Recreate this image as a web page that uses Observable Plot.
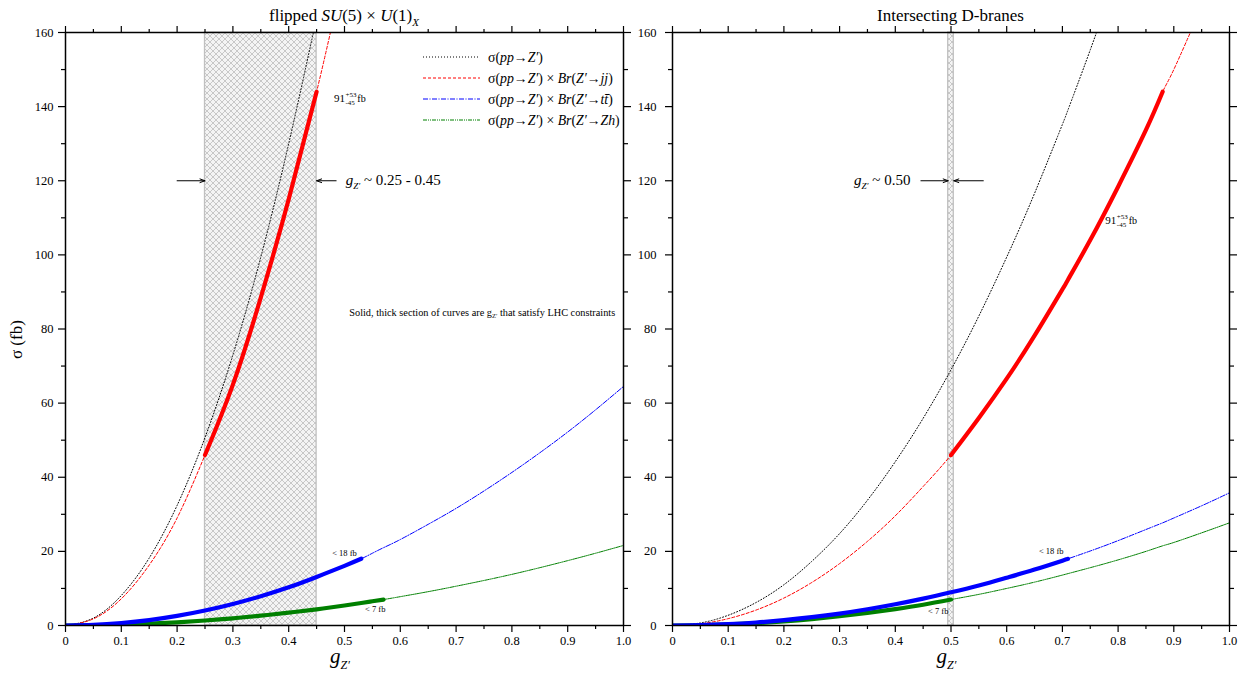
<!DOCTYPE html>
<html><head><meta charset="utf-8">
<script src="https://cdn.jsdelivr.net/npm/d3@7"></script>
<script src="https://cdn.jsdelivr.net/npm/@observablehq/plot@0.6"></script>
<style>
body{margin:0;background:#fff;}
#wrap{display:flex;width:1248px;height:678px;}
#wrap svg{flex:none;overflow:visible;font-family:"Liberation Serif","DejaVu Serif",serif;}
</style>
</head><body><div id="wrap"></div>
<script>
// ---------- tick values ----------
const xTicks = [0,0.1,0.2,0.3,0.4,0.5,0.6,0.7,0.8,0.9,1.0];
const xMinor = [0.05,0.15,0.25,0.35,0.45,0.55,0.65,0.75,0.85,0.95];
const yTicks = [0,20,40,60,80,100,120,140,160];
const yMinor = [10,30,50,70,90,110,130,150];

// ---------- flipped SU(5) x U(1)_X ----------
const gLeft     = [0,0.05,0.1,0.15,0.2,0.25,0.3,0.35,0.4,0.45,0.5,0.53,0.55,0.57,0.6,0.65,0.7,0.75,0.8,0.85,0.9,0.95,1.0];
const sigmaLeft = [0,2.0,8.1,18.2,32.4,50.7,73.0,99.4,130,164,null,null,null,null,null,null,null,null,null,null,null,null,null];
const jjLeft    = [0,1.8,7.2,16.3,29,46,65,88.5,115,144,177,null,null,null,null,null,null,null,null,null,null,null,null];
const ttLeft    = [0,0.16,0.65,1.45,2.58,4.03,5.8,7.9,10.3,13.1,16.1,18.0,19.5,21.0,23.2,27.3,31.6,36.3,41.3,46.6,52.2,58.2,64.5];
const zhLeft    = [0,0.05,0.22,0.49,0.86,1.35,1.94,2.65,3.46,4.37,5.4,6.07,6.53,7.0,7.78,9.13,10.6,12.15,13.8,15.6,17.5,19.5,21.6];
const jjThickLeft = [0.25,0.45];
const ttThickLeft = [0,0.53];
const zhThickLeft = [0,0.57];
const bandLeft = [0.25,0.45];

// ---------- Intersecting D-branes ----------
const gRight     = [0,0.05,0.1,0.15,0.2,0.25,0.3,0.35,0.4,0.45,0.5,0.55,0.6,0.65,0.7,0.71,0.75,0.8,0.85,0.88,0.9,0.95,1.0];
const sigmaRight = [0,0.69,2.76,6.2,11.0,17.3,24.8,33.8,44.2,55.9,69,83.5,99.4,116.6,135.2,139.1,155.3,176.6,null,null,null,null,null];
const jjRight    = [0,0.46,1.85,4.16,7.4,11.6,16.7,22.7,29.6,37.5,46,56,66.6,78.2,90.7,93.3,104,118.4,133.7,144,150,167,null];
const ttRight    = [0,0.09,0.36,0.81,1.43,2.24,3.22,4.39,5.73,7.25,8.95,10.8,12.9,15.1,17.5,18.0,20.1,22.9,25.9,27.7,29.0,32.3,35.8];
const zhRight    = [0,0.07,0.28,0.62,1.1,1.73,2.5,3.4,4.43,5.6,7.0,8.4,10.0,11.7,13.6,14.0,15.6,17.7,20.0,21.5,22.4,25.0,27.7];
const jjThickRight = [0.5,0.88];
const ttThickRight = [0,0.71];
const zhThickRight = [0,0.5];
const bandRight = [0.495,0.505];

// ---------- annotations ----------
const limitLabelsLeft  = [{g:0.50,v:19.6,text:"< 18 fb"},{g:0.555,v:4.4,text:"< 7 fb"}];
const limitLabelsRight = [{g:0.68,v:20.0,text:"< 18 fb"},{g:0.477,v:3.8,text:"< 7 fb"}];
const arrowsLeft  = [{from:0.20,to:0.25,v:120},{from:0.485,to:0.45,v:120}];
const arrowsRight = [{from:0.446,to:0.495,v:120},{from:0.558,to:0.505,v:120}];
const xsecLabelLeft  = {g:0.482,v:142.3};
const xsecLabelRight = {g:0.778,v:109.3};
const rangeNoteLeft  = {g:0.503,v:120,anchor:"start",text:"~ 0.25 - 0.45"};
const rangeNoteRight = {g:0.428,v:120,anchor:"end",text:"~ 0.50"};
const noteText = {g:0.986,v:84.2};

const colors = {sigma:"#000000", jj:"#ff0000", tt:"#0000ff", zh:"#008000"};
const dashes = {sigma:"1,2", jj:"3,2", tt:"5,1.5,1,1.5", zh:"4,1,1,1,1,1"};

const SERIF = "Liberation Serif, DejaVu Serif, serif";
const primeZ = "Z\u2032";
const legendEntries = [
  {key:"sigma", parts:[{t:"σ("},{t:"pp",i:1},{t:"→"},{t:primeZ,i:1},{t:")"}]},
  {key:"jj", parts:[{t:"σ("},{t:"pp",i:1},{t:"→"},{t:primeZ,i:1},{t:") × "},{t:"Br",i:1},{t:"("},{t:primeZ+"→jj",i:1},{t:")"}]},
  {key:"tt", parts:[{t:"σ("},{t:"pp",i:1},{t:"→"},{t:primeZ,i:1},{t:") × "},{t:"Br",i:1},{t:"("},{t:primeZ+"→tt\u0304",i:1},{t:")"}]},
  {key:"zh", parts:[{t:"σ("},{t:"pp",i:1},{t:"→"},{t:primeZ,i:1},{t:") × "},{t:"Br",i:1},{t:"("},{t:primeZ+"→Zh",i:1},{t:")"}]}
];

function rich(sel, x, y, parts, anchor, size) {
  const t = sel.append("text").attr("x", x).attr("y", y).attr("text-anchor", anchor || "start")
    .attr("font-family", SERIF).attr("font-size", size || 12).attr("fill", "black");
  let cur = 0, prev = null;
  for (const p of parts) {
    const ts = t.append("tspan").text(p.t);
    if (p.s) ts.attr("font-size", p.s);
    const shift = p.up || 0;
    if (shift !== cur) { ts.attr("dy", shift - cur); cur = shift; }
    if (p.i) ts.attr("font-style", "italic");
    let dx = p.dx || 0;
    if (p.back && prev) dx -= prev.node().getComputedTextLength();
    if (dx) ts.attr("dx", dx);
    prev = ts;
  }
  return t;
}

function panel(cfg) {
  const mk = (vals) => cfg.g.map((x, i) => ({g: x, v: vals[i]}));
  const inR = (r) => (d) => d.g >= r[0] - 1e-9 && d.g <= r[1] + 1e-9;
  const thin = (key) => Plot.line(mk(cfg[key]), {x:"g", y:"v", stroke: colors[key], strokeWidth: 1, strokeDasharray: dashes[key], curve:"natural", clip:true});
  const thick = (key, r) => Plot.line(mk(cfg[key]).filter(inR(r)), {x:"g", y:"v", stroke: colors[key], strokeWidth: 4.2, curve:"natural", clip:true});
  const plot = Plot.plot({
    width: cfg.width, height: 678,
    marginLeft: cfg.ml, marginRight: cfg.mr, marginTop: 32, marginBottom: 53,
    x: {domain: [xTicks[0], xTicks[xTicks.length-1]]},
    y: {domain: [yTicks[0], yTicks[yTicks.length-1]]},
    style: {fontFamily: SERIF, fontSize: "12.5px", background: "transparent", overflow: "visible", color: "black"},
    marks: [
      Plot.rect([cfg.band], {x1: d => d[0], x2: d => d[1], y1: () => yTicks[0], y2: () => yTicks[yTicks.length-1],
        fill: `url(#hatch${cfg.id})`, stroke: "#c0c0c0", strokeWidth: 1.3}),
      thin("sigma"), thin("jj"), thin("tt"), thin("zh"),
      thick("jj", cfg.jjThick), thick("zh", cfg.zhThick), thick("tt", cfg.ttThick),
      Plot.arrow(cfg.arrows, {x1:"from", x2:"to", y1:"v", y2:"v", stroke:"black", strokeWidth:1, headLength:8, headAngle:40}),
      Plot.text(cfg.limits, {x:"g", y:"v", text:"text", fontSize: 8.5, fill:"black", fontFamily: SERIF}),
      Plot.axisX(xTicks, {anchor:"bottom", tickSize:7, tickPadding:4, strokeWidth:1.2, label:null, fontFamily: SERIF,
        tickFormat: d => d === 0 ? "0" : d.toFixed(1)}),
      Plot.axisX(xMinor, {anchor:"bottom", tickSize:4, strokeWidth:1.2, fill:"none", label:null}),
      Plot.axisX(xTicks, {anchor:"top", tickSize:7, strokeWidth:1.2, fill:"none", label:null}),
      Plot.axisX(xMinor, {anchor:"top", tickSize:4, strokeWidth:1.2, fill:"none", label:null}),
      Plot.axisY(yTicks, {anchor:"left", tickSize:7, tickPadding: cfg.yPad, strokeWidth:1.2, label:null, fontFamily: SERIF}),
      Plot.axisY(yMinor, {anchor:"left", tickSize:4, strokeWidth:1.2, fill:"none", label:null}),
      Plot.axisY(yTicks, {anchor:"right", tickSize:7, strokeWidth:1.2, fill:"none", label:null}),
      Plot.axisY(yMinor, {anchor:"right", tickSize:4, strokeWidth:1.2, fill:"none", label:null}),
      Plot.frame({stroke:"black", strokeWidth:1.5})
    ]
  });
  document.getElementById("wrap").appendChild(plot);
  const sx = plot.scale("x"), sy = plot.scale("y");
  const X = v => sx.apply(v), Y = v => sy.apply(v);
  const svg = d3.select(plot);

  // hatch pattern (cross-hatch)
  const defs = svg.insert("defs", ":first-child");
  const P = 6;
  const pat = defs.append("pattern").attr("id", "hatch" + cfg.id).attr("patternUnits", "userSpaceOnUse")
    .attr("width", P).attr("height", P);
  pat.append("rect").attr("width", P).attr("height", P).attr("fill", "#f4f4f4");
  pat.append("path").attr("d", `M0,0L${P},${P}M${P},0L0,${P}M-1,${P-1}L1,${P+1}M${P-1},-1L${P+1},1M${P-1},${P+1}L${P+1},${P-1}M-1,1L1,-1`)
    .attr("stroke", "#bdbdbd").attr("stroke-width", 0.8).attr("fill", "none");

  const cx = (X(xTicks[0]) + X(xTicks[xTicks.length-1])) / 2;
  // title
  rich(svg, cx, 21, cfg.title, "middle", 17);
  // x label
  rich(svg, cx - 4, 663, [{t:"g", i:1, s:21}, {t:primeZ, i:1, s:12, up:6}], "middle", 21);
  // cross-section label
  rich(svg, X(cfg.xsec.g), Y(cfg.xsec.v) + 4, [
    {t:"91", s:11}, {t:"+53", s:7, up:-5, dx:0.5}, {t:"-45", s:7, up:3, back:1}, {t:" fb", s:10, up:0}
  ], "start", 11);
  // range note
  rich(svg, X(cfg.range.g), Y(cfg.range.v) + 5, [
    {t:"g", i:1, s:15}, {t:primeZ, i:1, s:9, up:4}, {t:" " + cfg.range.text, s:15, up:0}
  ], cfg.range.anchor, 15);

  if (cfg.id === "L") {
    // y label
    svg.append("text").attr("transform", `translate(22,${Y(77)}) rotate(-90)`).attr("text-anchor", "middle")
      .attr("font-family", SERIF).attr("font-size", 17).attr("fill", "black").text("σ (fb)");
    // note
    rich(svg, X(noteText.g), Y(noteText.v) + 3, [
      {t:"Solid, thick section of curves are g", s:10.3}, {t:primeZ, s:6.5, up:2}, {t:" that satisfy LHC constraints", s:10.3, up:0}
    ], "end", 10.3);
    // legend
    const xr = X(xTicks[xTicks.length-1]);
    const top = Y(yTicks[yTicks.length-1]);
    legendEntries.forEach((e, i) => {
      const yy = top + 25 + i * 21;
      svg.append("line").attr("x1", xr - 200).attr("x2", xr - 143).attr("y1", yy).attr("y2", yy)
        .attr("stroke", colors[e.key]).attr("stroke-width", 1).attr("stroke-dasharray", dashes[e.key]);
      rich(svg, xr - 135, yy + 5, e.parts.map(p => ({...p, s:13.8})), "start", 13.8);
    });
  }
  return plot;
}

panel({
  id:"L", width:640, ml:65, mr:17, yPad:5,
  g:gLeft, sigma:sigmaLeft, jj:jjLeft, tt:ttLeft, zh:zhLeft,
  jjThick:jjThickLeft, ttThick:ttThickLeft, zhThick:zhThickLeft, band:bandLeft,
  arrows:arrowsLeft, limits:limitLabelsLeft, xsec:xsecLabelLeft, range:rangeNoteLeft,
  title:[{t:"flipped "},{t:"SU",i:1},{t:"(5) × "},{t:"U",i:1},{t:"(1)"},{t:"X",i:1,s:11,up:5}]
});
panel({
  id:"R", width:608, ml:32, mr:19, yPad:9,
  g:gRight, sigma:sigmaRight, jj:jjRight, tt:ttRight, zh:zhRight,
  jjThick:jjThickRight, ttThick:ttThickRight, zhThick:zhThickRight, band:bandRight,
  arrows:arrowsRight, limits:limitLabelsRight, xsec:xsecLabelRight, range:rangeNoteRight,
  title:[{t:"Intersecting D-branes"}]
});
</script></body></html>
